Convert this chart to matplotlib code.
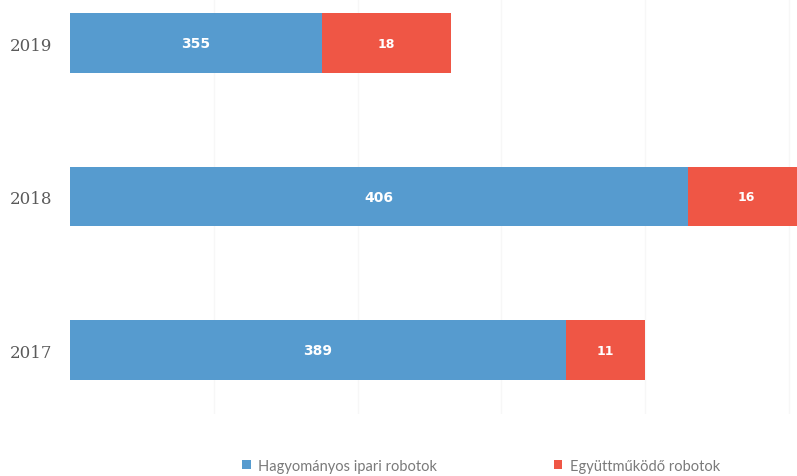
import matplotlib
matplotlib.use("Agg")
import matplotlib.pyplot as plt
import numpy as np

# Years (bottom to top) and robot counts per type
years = ["2017", "2018", "2019"]
traditional = [389, 406, 355]
collaborative = [11, 16, 18]
series_names = ["Hagyományos ipari robotok", "Együttműködő robotok"]

blue = "#569bcf"
red = "#ef5645"

fig = plt.figure(figsize=(7.97, 4.77), dpi=100)
# axis area in figure fractions
ax = fig.add_axes([70 / 797, 62 / 477, 1 - 70 / 797, 1 - 62 / 477])

y = np.arange(len(years))
bar_h = 0.39

b1 = ax.barh(y, traditional, height=bar_h, color=blue, label=series_names[0], zorder=2)
b2 = ax.barh(y, collaborative, left=traditional, height=bar_h, color=red,
             label=series_names[1], zorder=2)

# value labels centred in each segment
for i in range(len(years)):
    ax.text(320 + (traditional[i] - 320) / 2, y[i], str(traditional[i]),
            ha="center", va="center", color="white", fontsize=10,
            fontweight="bold", zorder=3)
    ax.text(traditional[i] + collaborative[i] / 2, y[i], str(collaborative[i]),
            ha="center", va="center", color="white", fontsize=9,
            fontweight="bold", zorder=3)

ax.set_xlim(320, 421.1)
ax.set_ylim(-0.417, 2.287)

ax.set_xticks([340, 360, 380, 400, 420])
ax.xaxis.grid(True, color="#f7f7f7", linewidth=1, zorder=0)
ax.tick_params(axis="x", length=0, labelbottom=False)

ax.set_yticks(y)
ax.set_yticklabels(years, family="DejaVu Serif", fontsize=12, color="#5a5a5a")
ax.tick_params(axis="y", length=0, pad=13)

for s in ax.spines.values():
    s.set_visible(False)

fig.legend(handles=[b1, b2], loc="center", bbox_to_anchor=(481 / 797, 10 / 477),
           ncol=2, frameon=False, handlelength=0.6, handleheight=0.6,
           handletextpad=0.5, columnspacing=8,
           prop={"family": "Lato", "size": 10.5}, labelcolor="#7a7a7a")

fig.savefig("out.png", dpi=100)
